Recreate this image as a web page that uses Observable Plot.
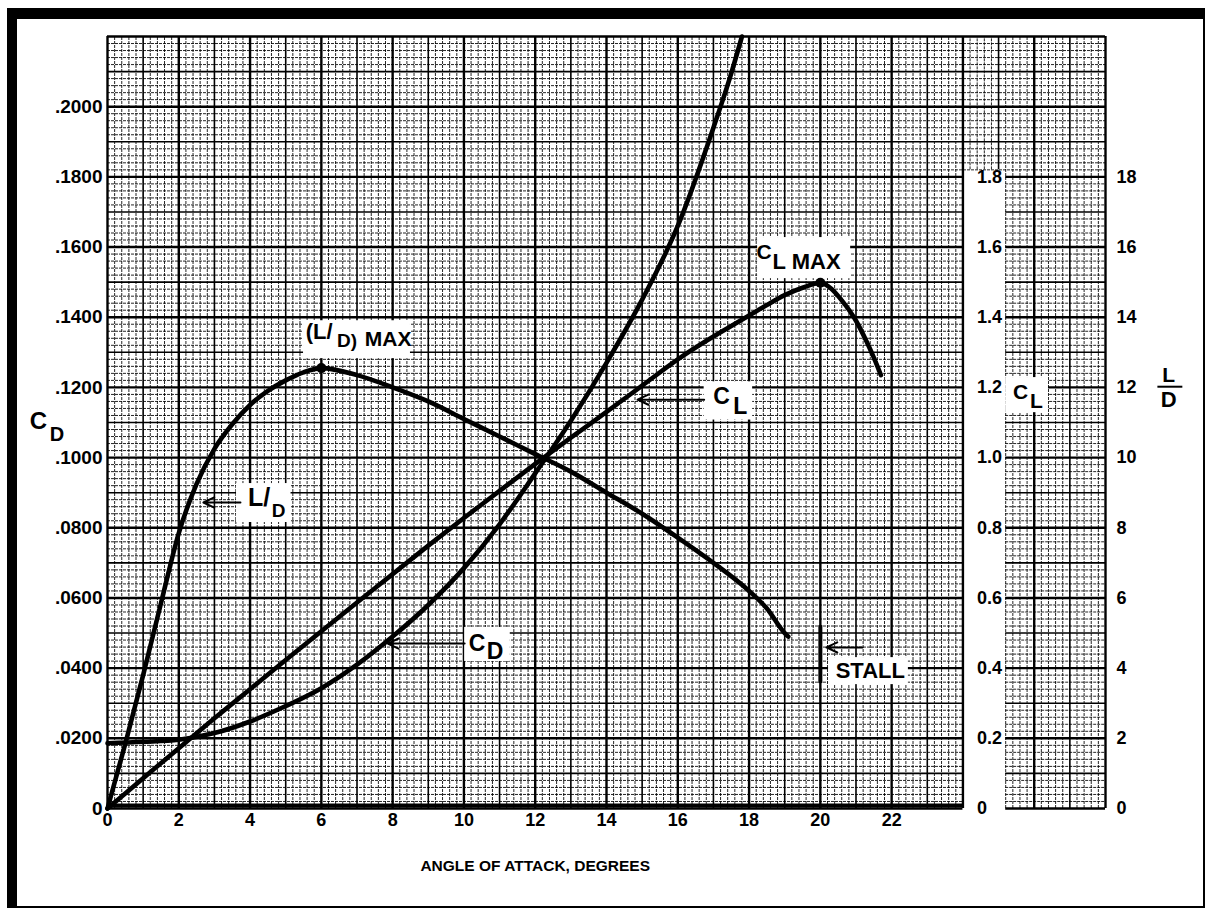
<!DOCTYPE html>
<html><head><meta charset="utf-8">
<script src="https://cdn.jsdelivr.net/npm/d3@7"></script>
<script src="https://cdn.jsdelivr.net/npm/@observablehq/plot@0.6"></script>
<style>
body{margin:0;background:#fff;}
#wrap{position:relative;width:1208px;height:910px;overflow:hidden;background:#fff;}
#frame{position:absolute;left:7px;top:8px;width:1198px;height:900px;box-sizing:border-box;border-style:solid;border-color:#000;border-width:11px 2px 2px 10px;pointer-events:none;z-index:2;}
</style></head><body><div id="wrap"><div id="frame"></div></div>
<script>
// ---- data ----
const cdAlpha = [0, 1, 2, 3, 4, 5, 6, 7, 8, 9, 10, 11, 12, 13, 14, 15, 16, 17, 17.5, 17.8];
const cdValues = [0.0186, 0.019, 0.0196, 0.0215, 0.0248, 0.0292, 0.0343, 0.041, 0.049, 0.058, 0.0685, 0.081, 0.0955, 0.1105, 0.127, 0.145, 0.166, 0.194, 0.2095, 0.22];

const clAlpha = [0, 1, 2, 3, 4, 5, 6, 7, 8, 9, 10, 11, 12, 13, 14, 15, 16, 17, 17.5, 18, 18.5, 19, 19.5, 20, 20.3, 20.6, 21, 21.3, 21.5, 21.7];
const clValues = [0, 0.086, 0.172, 0.257, 0.34, 0.423, 0.505, 0.587, 0.668, 0.749, 0.828, 0.905, 0.982, 1.057, 1.13, 1.205, 1.28, 1.345, 1.375, 1.405, 1.435, 1.463, 1.484, 1.498, 1.482, 1.448, 1.39, 1.33, 1.285, 1.235];

const ldAlpha = [0, 0.5, 1, 1.5, 2, 2.5, 3, 3.5, 4, 4.5, 5, 5.5, 6, 7, 8, 9, 10, 11, 12, 13, 14, 15, 16, 17, 18, 18.5, 19, 19.1];
const ldValues = [0, 1.85, 3.8, 5.85, 7.85, 9.25, 10.25, 10.95, 11.5, 11.9, 12.2, 12.43, 12.55, 12.35, 12.0, 11.6, 11.1, 10.6, 10.1, 9.6, 9.0, 8.4, 7.72, 7.0, 6.2, 5.7, 5.0, 4.9];

const xTicks = [0, 2, 4, 6, 8, 10, 12, 14, 16, 18, 20, 22];
const cdTicks = [0, 0.02, 0.04, 0.06, 0.08, 0.10, 0.12, 0.14, 0.16, 0.18, 0.20];
const clTicks = [0, 0.2, 0.4, 0.6, 0.8, 1.0, 1.2, 1.4, 1.6, 1.8];
const ldTicks = [0, 2, 4, 6, 8, 10, 12, 14, 16, 18];

// ---- tables ----
const cd = cdAlpha.map((a, i) => ({a, v: cdValues[i]}));
const cl = clAlpha.map((a, i) => ({a, v: clValues[i] / 10}));   // CL on the CD scale (1.0 = .1000)
const ld = ldAlpha.map((a, i) => ({a, v: ldValues[i] / 100}));  // L/D on the CD scale (10 = .1000)

const clMaxI = d3.maxIndex(clValues);
const ldMaxI = d3.maxIndex(ldValues);
const stallAlpha = clAlpha[clMaxI];

// ---- graph paper ----
const XMAIN = 24, XSTRIP = 25.2, XEND = 28, YCON = 0.182, YTOP = 0.22;
const vLines = [], hLines = [];
for (let i = 0; i <= 140; i++) {
  const x = i / 5;
  const level = i % 10 === 0 ? 2 : i % 5 === 0 ? 1 : 0;
  if (x > XMAIN && x < XSTRIP - 1e-9) vLines.push({x, y1: YCON, y2: YTOP, level});
  else vLines.push({x, y1: 0, y2: YTOP, level});
}
for (let j = 0; j <= 110; j++) {
  const y = j / 500;
  const level = j % 10 === 0 ? 2 : j % 5 === 0 ? 1 : 0;
  if (y >= YCON - 1e-9) hLines.push({y, x1: 0, x2: XEND, level});
  else { hLines.push({y, x1: 0, x2: XMAIN, level}); hLines.push({y, x1: XSTRIP, x2: XEND, level}); }
}
const gridStyle = [
  {stroke: "#000", strokeWidth: 1, strokeOpacity: 0.85, strokeDasharray: "3,1"},
  {stroke: "#000", strokeWidth: 1.6, strokeOpacity: 1},
  {stroke: "#000", strokeWidth: 2.4, strokeOpacity: 1}
];
const gridMarks = [0, 1, 2].flatMap(l => [
  Plot.ruleX(vLines.filter(d => d.level === l), {x: "x", y1: "y1", y2: "y2", ...gridStyle[l]}),
  Plot.ruleY(hLines.filter(d => d.level === l), {y: "y", x1: "x1", x2: "x2", ...gridStyle[l]})
]);

// ---- white label boxes (data units) ----
const boxes = [
  {x1: 3.62, x2: 5.15, y1: 0.0815, y2: 0.0926},   // L/D
  {x1: 10.02, x2: 11.30, y1: 0.0419, y2: 0.0516}, // CD
  {x1: 16.74, x2: 18.10, y1: 0.1107, y2: 0.1216}, // CL
  {x1: 5.50, x2: 8.50, y1: 0.1282, y2: 0.1390},   // (L/D)max
  {x1: 18.24, x2: 20.85, y1: 0.151, y2: 0.1627},  // CL max
  {x1: 20.23, x2: 22.47, y1: 0.0353, y2: 0.0430}, // STALL
  {x1: 25.2, x2: 26.40, y1: 0.1128, y2: 0.1228}   // CL axis title
];

// centred texts
const labels = [
  {x: -1.94, y: 0.1103, t: "C", s: 24},
  {x: -1.42, y: 0.1066, t: "D", s: 20},
  {x: 25.62, y: 0.1186, t: "C", s: 21},
  {x: 26.06, y: 0.1161, t: "L", s: 21},
  {x: 17.23, y: 0.1174, t: "C", s: 23},
  {x: 17.75, y: 0.1145, t: "L", s: 23},
  {x: 10.37, y: 0.0469, t: "C", s: 23},
  {x: 10.87, y: 0.0446, t: "D", s: 23},
  {x: 18.42, y: 0.1586, t: "C", s: 21},
  {x: 4.80, y: 0.0849, t: "D", s: 19},
  {x: 6.72, y: 0.1333, t: "D)", s: 19},
  {x: 29.77, y: 0.1234, t: "L", s: 21},
  {x: 29.77, y: 0.1164, t: "D", s: 22}
];
// left-anchored texts
const startLabels = [
  {x: 18.66, y: 0.1557, t: "L MAX", s: 22},
  {x: 7.22, y: 0.1336, t: "MAX", s: 21},
  {x: 5.56, y: 0.1358, t: "(L/", s: 22},
  {x: 3.94, y: 0.0885, t: "L/", s: 25},
  {x: 20.43, y: 0.0393, t: "STALL", s: 22}
];
const arrows = [
  {x1: 3.73, x2: 2.69, y: 0.0872},
  {x1: 10.02, x2: 7.86, y: 0.047},
  {x1: 16.74, x2: 14.87, y: 0.1165},
  {x1: 21.18, x2: 20.17, y: 0.0459}
];
const sizes = [...new Set([...labels, ...startLabels].map(d => d.s))];

const fmtCD = d => d === 0 ? "0" : d.toFixed(4).replace(/^0/, "");

const chart = Plot.plot({
  width: 1208, height: 910,
  marginLeft: 107, marginRight: 103, marginTop: 36, marginBottom: 102,
  x: {domain: [0, XEND]},
  y: {domain: [0, YTOP]},
  style: {fontFamily: "'Liberation Sans', Arial, sans-serif", fontWeight: "bold", fontSize: "18px", background: "transparent", color: "#000"},
  marks: [
    ...gridMarks,
    Plot.ruleY([0], {x1: 0, x2: XMAIN, strokeWidth: 4, dy: -3}),
    Plot.rect(boxes, {x1: "x1", x2: "x2", y1: "y1", y2: "y2", fill: "white"}),
    Plot.line(cd, {x: "a", y: "v", strokeWidth: 4.6, curve: "monotone-x"}),
    Plot.line(cl, {x: "a", y: "v", strokeWidth: 4.6, curve: "monotone-x"}),
    Plot.line(ld, {x: "a", y: "v", strokeWidth: 4.6, curve: "monotone-x"}),
    Plot.dot([cl[clMaxI], ld[ldMaxI]], {x: "a", y: "v", r: 5, fill: "black"}),
    Plot.ruleX([stallAlpha], {y1: 0.0356, y2: 0.0521, strokeWidth: 4}),
    Plot.arrow(arrows, {x1: "x1", x2: "x2", y1: "y", y2: "y", strokeWidth: 2, headLength: 9, headAngle: 50}),
    Plot.axisX(xTicks, {tickSize: 0, tickPadding: 5, fontSize: 18, label: null}),
    Plot.axisY(cdTicks, {anchor: "left", tickSize: 0, tickPadding: 5, fontSize: 19, tickFormat: fmtCD, label: null}),
    Plot.text(clTicks, {x: () => XMAIN, y: d => d / 10, text: d => d === 0 ? "0" : d.toFixed(1), dx: 14, textAnchor: "start", fontSize: 18}),
    Plot.text(ldTicks, {x: () => XEND, y: d => d / 100, text: d => String(d), dx: 11, textAnchor: "start", fontSize: 18}),
    ...sizes.map(s => Plot.text(labels.filter(d => d.s === s), {x: "x", y: "y", text: "t", fontSize: s})),
    ...sizes.map(s => Plot.text(startLabels.filter(d => d.s === s), {x: "x", y: "y", text: "t", fontSize: s, textAnchor: "start"})),
    Plot.ruleY([0.1202], {x1: 29.47, x2: 30.17, strokeWidth: 2}),
    Plot.text(["ANGLE OF ATTACK, DEGREES"], {x: () => 12, frameAnchor: "bottom", dy: 62, text: d => d, fontSize: 15.5})
  ]
});
document.getElementById("wrap").appendChild(chart);
</script>
</body></html>
